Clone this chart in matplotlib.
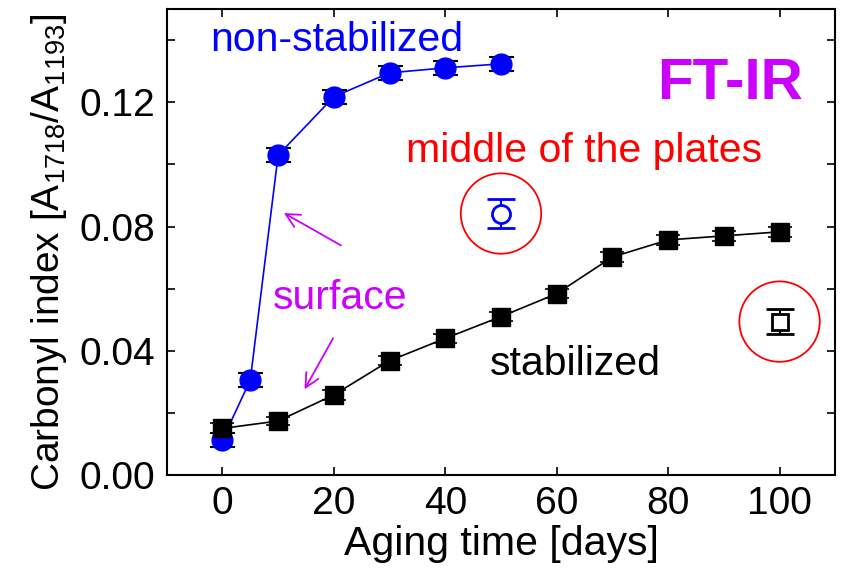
import matplotlib
matplotlib.use("Agg")
import matplotlib.pyplot as plt
from matplotlib.ticker import MultipleLocator

plt.rcParams['font.family'] = ['Liberation Sans', 'DejaVu Sans']
plt.rcParams['mathtext.fontset'] = 'custom'
plt.rcParams['mathtext.rm'] = 'Liberation Sans'
plt.rcParams['mathtext.default'] = 'regular'

# surface, non-stabilized
days_ns = [0, 5, 10, 20, 30, 40, 50]
ci_ns = [0.0113, 0.0306, 0.1030, 0.1218, 0.1295, 0.1311, 0.1324]
err_ns = [0.0022, 0.0022, 0.0022, 0.0022, 0.0022, 0.0022, 0.0022]

# surface, stabilized
days_st = [0, 10, 20, 30, 40, 50, 60, 70, 80, 90, 100]
ci_st = [0.0150, 0.0174, 0.0258, 0.0368, 0.0440, 0.0510, 0.0584, 0.0702, 0.0757, 0.0770, 0.0783]
err_st = [0.0016, 0.0014, 0.0015, 0.0015, 0.0014, 0.0014, 0.0014, 0.0015, 0.0015, 0.0015, 0.0015]

# middle of the plates
mid_ns_x, mid_ns_y, mid_ns_err = [50], [0.0842], [0.0048]
mid_st_x, mid_st_y, mid_st_err = [100], [0.0494], [0.0039]

purple = '#CC00FF'

fig = plt.figure(figsize=(8.42, 5.73), dpi=100)
ax = fig.add_axes([0.198, 0.171, 0.794, 0.813])

ax.plot(days_ns, ci_ns, '-', color='blue', lw=1.2, zorder=2)
ax.errorbar(days_ns, ci_ns, yerr=err_ns, fmt='o', ms=15, mfc='blue', mec='blue',
            ecolor='black', elinewidth=1.2, capsize=9, capthick=1.5, zorder=3)

ax.plot(days_st, ci_st, '-', color='black', lw=1.2, zorder=2)
ax.errorbar(days_st, ci_st, yerr=err_st, fmt='s', ms=13.5, mfc='black', mec='black',
            ecolor='black', elinewidth=1.0, capsize=8.5, capthick=1.2, zorder=3)

ax.errorbar(mid_ns_x, mid_ns_y, yerr=mid_ns_err, fmt='o', ms=13, mfc='white', mec='blue',
            mew=2, ecolor='blue', elinewidth=1.5, capsize=10, capthick=1.5, zorder=3)
ax.errorbar(mid_st_x, mid_st_y, yerr=mid_st_err, fmt='s', ms=12, mfc='white', mec='black',
            mew=2, ecolor='black', elinewidth=1.5, capsize=10, capthick=1.5, zorder=3)

# red rings around middle-of-plates points
ax.scatter(mid_ns_x + mid_st_x, mid_ns_y + mid_st_y, s=3350, facecolors='none',
           edgecolors='red', linewidths=1.3, zorder=1)

ax.set_xlim(-10, 110)
ax.set_ylim(0, 0.15)
ax.xaxis.set_major_locator(MultipleLocator(20))
ax.yaxis.set_major_locator(MultipleLocator(0.04))
ax.yaxis.set_minor_locator(MultipleLocator(0.02))
ax.yaxis.set_major_formatter(plt.FormatStrFormatter('%.2f'))
ax.tick_params(which='both', direction='in', top=True, right=True, labelsize=28,
               width=1.2, length=6, pad=8)
for s in ax.spines.values():
    s.set_linewidth(1.5)

ax.set_xlabel('Aging time [days]', fontsize=29.5, labelpad=2)
ax.set_ylabel('Carbonyl index [A$_{1718}$/A$_{1193}$]', fontsize=28)
ax.yaxis.set_label_coords(-0.146, 0.478)

ax.text(-2.2, 0.1402, 'non-stabilized', color='blue', fontsize=29.5, va='center')
ax.text(104.2, 0.1258, 'FT-IR', color=purple, fontsize=42, fontweight='bold',
        ha='right', va='center')
ax.text(33, 0.1042, 'middle of the plates', color='red', fontsize=29.5, va='center')
ax.text(9.0, 0.0569, 'surface', color=purple, fontsize=29.5, va='center')
ax.text(48.0, 0.0359, 'stabilized', color='black', fontsize=29.5, va='center')

ax.annotate('', xy=(10.6, 0.0848), xytext=(21.7, 0.0735),
            arrowprops=dict(arrowstyle='->', color=purple, lw=1.3, mutation_scale=25))
ax.annotate('', xy=(14.5, 0.0268), xytext=(20.1, 0.0448),
            arrowprops=dict(arrowstyle='->', color=purple, lw=1.3, mutation_scale=25))

fig.savefig('out.png', dpi=100)
